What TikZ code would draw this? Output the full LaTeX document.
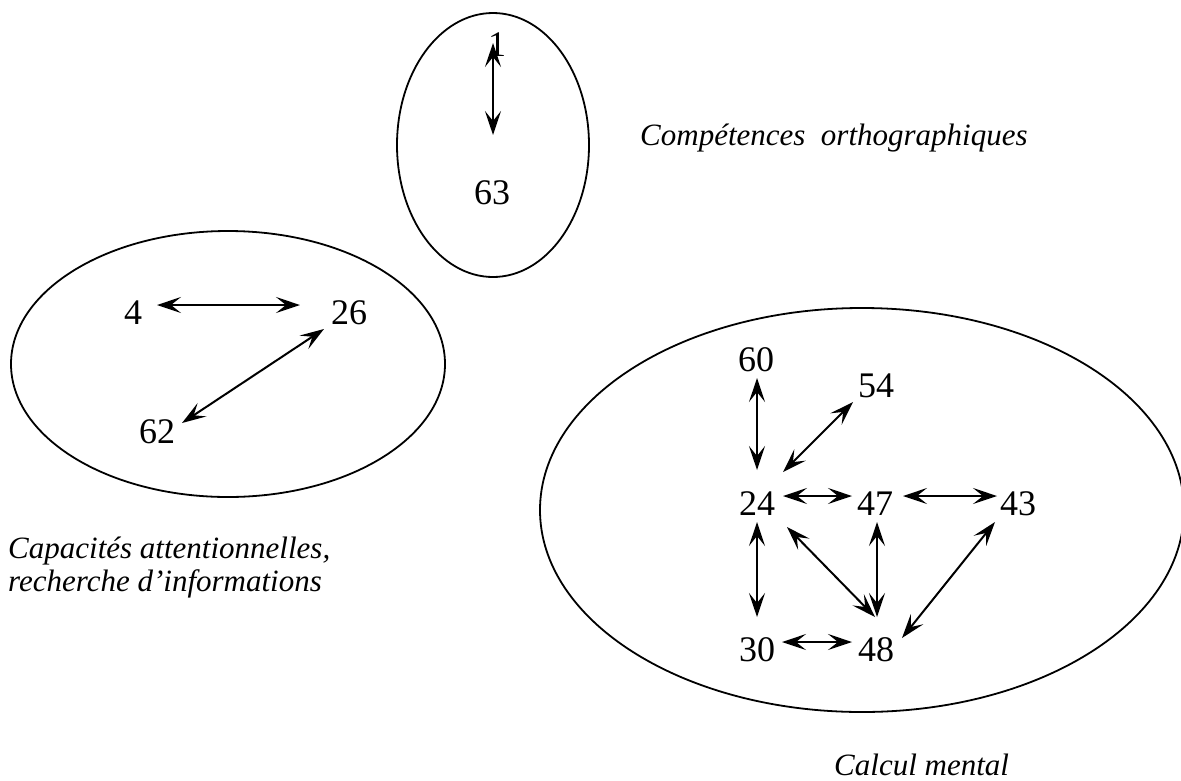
\documentclass[tikz,border=0pt]{standalone}
\usepackage{fontspec}
\setmainfont{Liberation Serif}
\usetikzlibrary{arrows.meta}
\tikzset{
  num/.style={inner sep=0pt, font=\fontsize{36}{40}\selectfont},
  lab/.style={inner sep=0pt, anchor=base west, font=\fontsize{31}{36}\selectfont\itshape},
  ell/.style={line width=1.8pt},
  dar/.style={line width=2pt, {Stealth[length=24pt,width=16pt,inset=10pt]}-{Stealth[length=24pt,width=16pt,inset=10pt]}}
}
\begin{document}
\begin{tikzpicture}[x=1pt,y=-1pt]
\useasboundingbox (0,0) rectangle (1181,780);
% ellipses
\draw[ell] (493,145) ellipse [x radius=96pt, y radius=132pt];
\draw[ell] (228,364) ellipse [x radius=217pt, y radius=133pt];
\draw[ell] (862,510) ellipse [x radius=322pt, y radius=202pt];
% top group
\node[num] (n1) at (497,45) {1};
\node[num] (n63) at (492,193) {63};
\draw[dar] ([shift={(-4,-2)}]n1.center) -- ([shift={(1,-58)}]n63.center);
% left group
\node[num] (n4) at (133,313) {4};
\node[num] (n26) at (349,313) {26};
\node[num] (n62) at (157,432) {62};
\draw[dar] ([shift={(24,-8)}]n4.center) -- ([shift={(-49,-8)}]n26.center);
\draw[dar] ([shift={(25,-9)}]n62.center) -- ([shift={(-25,16)}]n26.center);
% big group
\node[num] (n60) at (756,360) {60};
\node[num] (n54) at (876,386) {54};
\node[num] (n24) at (757,504) {24};
\node[num] (n47) at (875,504) {47};
\node[num] (n43) at (1018,504) {43};
\node[num] (n30) at (757,650) {30};
\node[num] (n48) at (876,650) {48};
\draw[dar] ([shift={(1,18)}]n60.center) -- ([shift={(0,-34)}]n24.center);
\draw[dar] ([shift={(-23,16)}]n54.center) -- ([shift={(26,-32)}]n24.center);
\draw[dar] ([shift={(26,-8)}]n24.center) -- ([shift={(-23,-8)}]n47.center);
\draw[dar] ([shift={(28,-8)}]n47.center) -- ([shift={(-21,-8)}]n43.center);
\draw[dar] ([shift={(0,18)}]n24.center) -- ([shift={(0,-33)}]n30.center);
\draw[dar] ([shift={(30,23)}]n24.center) -- ([shift={(-1,-33)}]n48.center);
\draw[dar] ([shift={(2,18)}]n47.center) -- ([shift={(1,-33)}]n48.center);
\draw[dar] ([shift={(-23,18)}]n43.center) -- ([shift={(26,-12)}]n48.center);
\draw[dar] ([shift={(25,-8)}]n30.center) -- ([shift={(-24,-8)}]n48.center);
% labels
\node[lab] (l1) at (640,145) {Compétences\ \ orthographiques};
\node[lab] (l2) at (8,558) {Capacités attentionnelles,};
\node[lab] (l3) at (8,591) {recherche d’informations};
\node[lab] (l4) at (834,775) {Calcul mental};
\end{tikzpicture}
\end{document}
